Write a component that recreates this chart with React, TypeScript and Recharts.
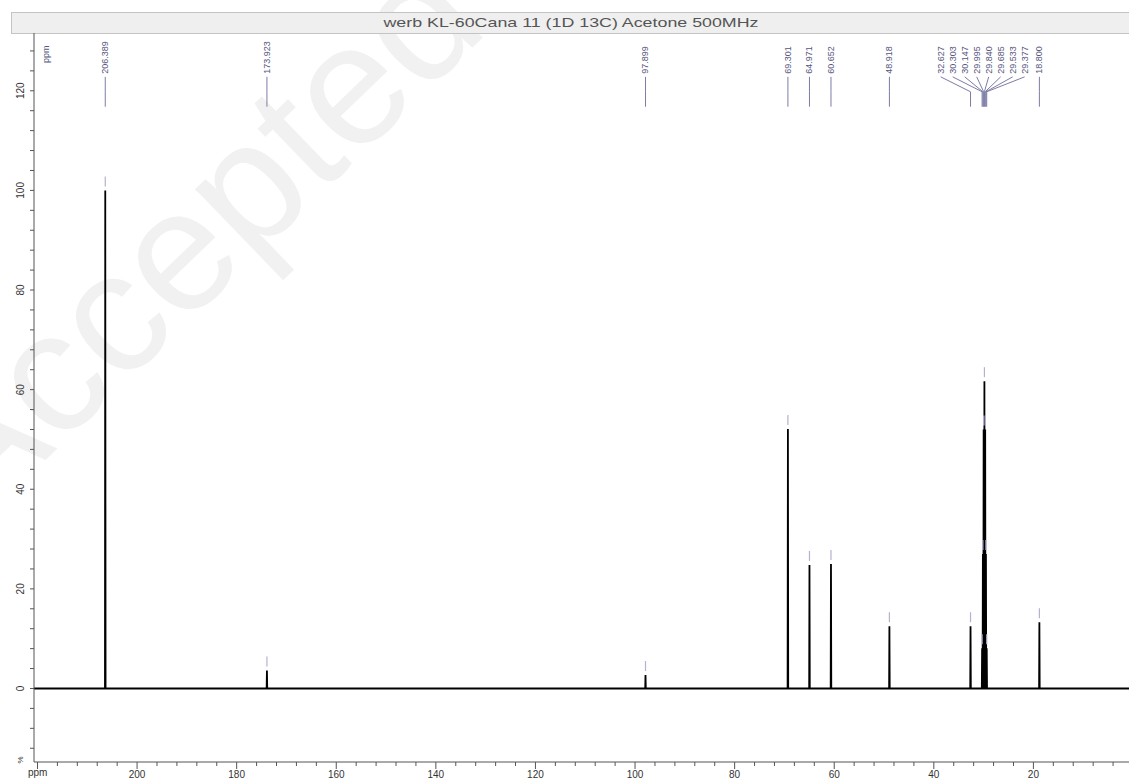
import React from 'react';
import { ComposedChart, Line, Scatter, XAxis, YAxis, ReferenceLine } from 'recharts';

// peak positions (ppm) and heights (%)
const peakPpm = [206.389, 173.923, 97.899, 69.301, 64.971, 60.652, 48.918, 32.627, 30.303, 30.147, 29.995, 29.84, 29.685, 29.533, 29.377, 18.8];
const peakHeight = [100, 3.6, 2.7, 52.1, 24.8, 25.0, 12.5, 12.5, 8.1, 27.0, 52.0, 61.7, 52.0, 27.0, 8.1, 13.3];

const xTicks: number[] = [];
for (let t = 0; t <= 220; t += 4) xTicks.push(t);
const yTicks: number[] = [];
for (let t = -12; t <= 128; t += 4) yTicks.push(t);

const TITLE = 'werb KL-60Cana 11 (1D 13C) Acetone 500MHz';
const FONT = '"Liberation Sans", Arial, sans-serif';
const AXIS = '#555';
const LABEL_TEXT = '#55557d';
const LABEL_LINE = '#7c7ca6';
const MARK = '#b2b2d2';

// label row heights, in % units
const LABEL_Y = 123.4;
const LEAD_TOP = 122.8;
const LEAD_BEND = 119.8;
const LEAD_BOTTOM = 116.8;
const LABEL_GAP = 2.41; // ppm between neighbouring labels (~12px)

// push overlapping labels apart, centring each crowded group on its peaks
function spreadLabels(values: number[]): number[] {
  let groups = values.map((v) => ({ members: [v], center: v }));
  let merged = true;
  while (merged) {
    merged = false;
    for (let i = 0; i < groups.length - 1; i++) {
      const a = groups[i];
      const b = groups[i + 1];
      const aLow = a.center - ((a.members.length - 1) * LABEL_GAP) / 2;
      const bHigh = b.center + ((b.members.length - 1) * LABEL_GAP) / 2;
      if (aLow - bHigh < LABEL_GAP) {
        const members = [...a.members, ...b.members];
        const center = members.reduce((s, m) => s + m, 0) / members.length;
        groups.splice(i, 2, { members, center });
        merged = true;
        break;
      }
    }
  }
  return groups.flatMap((g) => g.members.map((_, k) => g.center + ((g.members.length - 1) / 2 - k) * LABEL_GAP));
}

const labelPpm = spreadLabels(peakPpm);

// spectrum trace: flat baseline with a narrow stick at each peak
const spectrum: { ppm: number; v: number }[] = [{ ppm: 220.7, v: 0 }];
peakPpm.forEach((p, i) => {
  spectrum.push({ ppm: p + 0.06, v: 0 }, { ppm: p, v: peakHeight[i] }, { ppm: p - 0.06, v: 0 });
});
spectrum.push({ ppm: 0, v: 0 });

const markers = peakPpm.map((p, i) => ({ ppm: p, h: peakHeight[i] }));
const labels = peakPpm.map((p, i) => ({ ppm: labelPpm[i], lab: LABEL_Y, text: p.toFixed(3) }));

const PpmTick = (props: any) => {
  const { x, y, payload } = props;
  const v = payload.value;
  const major = v % 20 === 0;
  return (
    <g>
      <line x1={x} x2={x} y1={y} y2={y + (major ? 7 : 4)} stroke={AXIS} />
      {major && v <= 200 ? (
        <text x={x} y={y + 16} textAnchor="middle" fontSize={10} fontFamily={FONT} fill="#333">
          {v}
        </text>
      ) : null}
    </g>
  );
};

const PctTick = (props: any) => {
  const { x, y, payload } = props;
  const v = payload.value;
  return (
    <g>
      <line x1={x - 4} x2={x} y1={y} y2={y} stroke={AXIS} />
      {v % 20 === 0 ? (
        <text
          x={x - 13}
          y={y}
          transform={`rotate(-90 ${x - 13} ${y})`}
          textAnchor="middle"
          dominantBaseline="central"
          fontSize={10}
          fontFamily={FONT}
          fill="#333"
        >
          {v}
        </text>
      ) : null}
    </g>
  );
};

const PeakMark = (props: any) => {
  const { cx, cy } = props;
  return <line x1={cx} x2={cx} y1={cy - 14} y2={cy - 4} stroke={MARK} strokeWidth={1.2} />;
};

const PeakLabel = (props: any) => {
  const { cx, cy, payload } = props;
  return (
    <text
      x={cx}
      y={cy}
      transform={`rotate(-90 ${cx} ${cy})`}
      dominantBaseline="central"
      fontSize={9}
      fontFamily={FONT}
      fill={LABEL_TEXT}
    >
      {payload.text}
    </text>
  );
};

export default function App() {
  return (
    <div style={{ position: 'absolute', left: 0, top: 0, width: 1129, height: 781, overflow: 'hidden', background: '#fff' }}>
      <svg width={1129} height={781} style={{ position: 'absolute', left: 0, top: 0 }}>
        {/* faint journal watermark */}
        <text
          x={-25}
          y={528}
          transform="rotate(-44 -25 528)"
          fontSize={172}
          fontFamily={FONT}
          fill="#f1f1f1"
        >
          Accepted
        </text>
        <rect x={11.5} y={12.5} width={1130} height={21} fill="#efefef" stroke="#c4c4c4" />
        <text
          x={571}
          y={27}
          textAnchor="middle"
          fontSize={13}
          fontFamily={FONT}
          fill="#555"
          textLength={375}
          lengthAdjust="spacingAndGlyphs"
        >
          {TITLE}
        </text>
        <text x={46} y={63} transform="rotate(-90 46 63)" dominantBaseline="central" fontSize={9} fontFamily={FONT} fill={LABEL_TEXT}>
          ppm
        </text>
        <text x={20} y={760} transform="rotate(-90 20 760)" textAnchor="middle" dominantBaseline="central" fontSize={8} fontFamily={FONT} fill="#333">
          %
        </text>
        <text x={28} y={776} fontSize={10} fontFamily={FONT} fill="#333">
          ppm
        </text>
      </svg>
      <div style={{ position: 'absolute', left: 0, top: 0 }}>
        <ComposedChart width={1150} height={781} data={spectrum} margin={{ top: 33, right: 17, bottom: 0, left: 0 }}>
          <XAxis
            dataKey="ppm"
            type="number"
            domain={[0, 220.7]}
            reversed
            allowDataOverflow
            ticks={xTicks}
            interval={0}
            tick={<PpmTick />}
            tickSize={0}
            tickMargin={0}
            height={19}
            axisLine={{ stroke: AXIS }}
          />
          <YAxis
            type="number"
            domain={[-14.76, 131.6]}
            allowDataOverflow
            ticks={yTicks}
            interval={0}
            tick={<PctTick />}
            tickSize={0}
            tickMargin={0}
            width={34}
            axisLine={{ stroke: AXIS }}
          />
          <Line dataKey="v" type="linear" stroke="#000" strokeWidth={1.8} dot={false} isAnimationActive={false} />
          <Scatter data={markers} dataKey="h" shape={<PeakMark />} isAnimationActive={false} />
          <Scatter data={labels} dataKey="lab" shape={<PeakLabel />} isAnimationActive={false} />
          {peakPpm.map((p, i) => (
            <ReferenceLine
              key={`lead-a-${i}`}
              segment={[{ x: labelPpm[i], y: LEAD_TOP }, { x: p, y: LEAD_BEND }]}
              stroke={LABEL_LINE}
            />
          ))}
          {peakPpm.map((p, i) => (
            <ReferenceLine
              key={`lead-b-${i}`}
              segment={[{ x: p, y: LEAD_BEND }, { x: p, y: LEAD_BOTTOM }]}
              stroke={LABEL_LINE}
            />
          ))}
        </ComposedChart>
      </div>
    </div>
  );
}
